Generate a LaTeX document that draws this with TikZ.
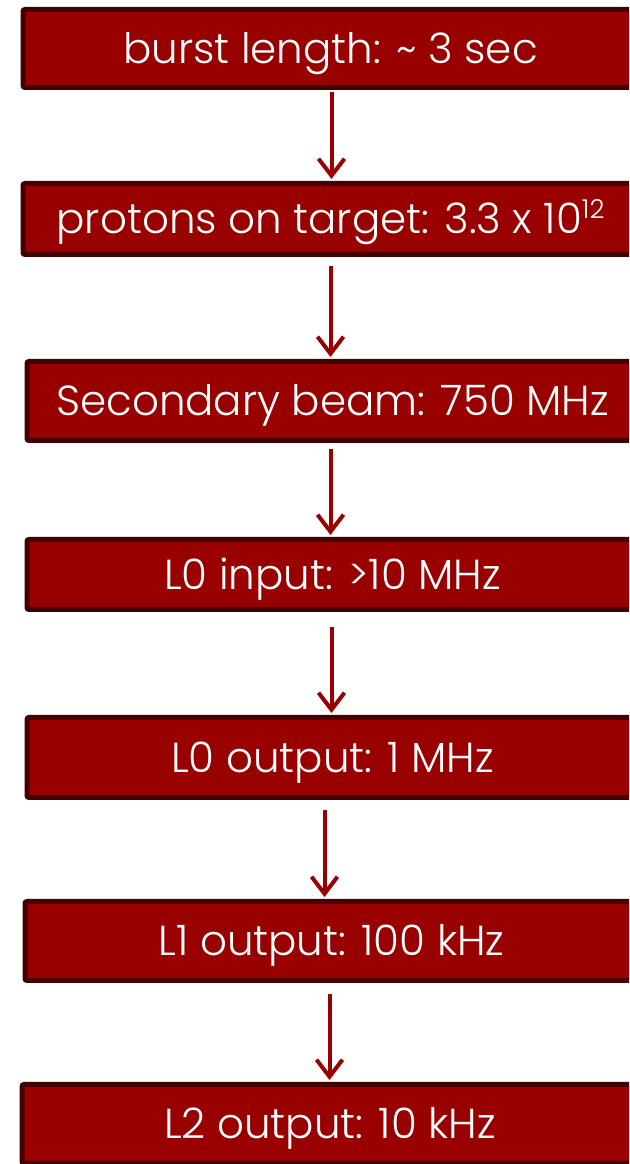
\documentclass[tikz,border=0pt]{standalone}
\usepackage{fontspec}
\setmainfont{Poppins Light}
\usetikzlibrary{arrows.meta}
\definecolor{boxfill}{HTML}{990000}
\definecolor{boxedge}{HTML}{440000}
\begin{document}
\begin{tikzpicture}[x=1pt,y=1pt,
  stage/.style={draw=boxedge, fill=boxfill, line width=5pt, rounded corners=2pt,
    text=white, font=\fontsize{42}{42}\selectfont, anchor=west, inner sep=0pt,
    text height=30pt, text depth=0pt},
  flow/.style={draw=boxfill, line width=4pt, -{Straight Barb[length=17pt,width=26pt]}}]
\fill[white] (0,0) rectangle (629,1164);
\clip (0,0) rectangle (629,1164);
\node[stage, minimum width=615pt, minimum height=78pt] (b1) at (20.5,1115.5) {burst length: \textasciitilde{} 3 sec};
\node[stage, minimum width=615pt, minimum height=71pt] (b2) at (20.5,945) {protons on target: 3.3 x 10\raisebox{0.36em}{\fontsize{26}{26}\selectfont 12}};
\node[stage, minimum width=611pt, minimum height=79pt] (b3) at (24.5,763) {Secondary beam: 750 MHz};
\node[stage, minimum width=611pt, minimum height=70pt] (b4) at (24.5,589.5) {L0 input: >10 MHz};
\node[stage, minimum width=611pt, minimum height=80pt] (b5) at (24.5,406.5) {L0 output: 1 MHz};
\node[stage, minimum width=613pt, minimum height=79pt] (b6) at (22.5,223) {L1 output: 100 kHz};
\node[stage, minimum width=616pt, minimum height=79pt] (b7) at (19.5,40) {L2 output: 10 kHz};
\draw[flow, shorten <=2.5pt, shorten >=2pt] ([xshift=1pt]b1.south) -- ([xshift=1pt]b1.south |- b2.north);
\draw[flow, shorten <=9.5pt, shorten >=2pt] (b2.south) -- (b2.south |- b3.north);
\draw[flow, shorten <=6.5pt, shorten >=2pt] ([xshift=-2pt]b3.south) -- ([xshift=-2pt]b3.south |- b4.north);
\draw[flow, shorten <=15.5pt, shorten >=2pt] ([xshift=-1pt]b4.south) -- ([xshift=-1pt]b4.south |- b5.north);
\draw[flow, shorten <=10.5pt, shorten >=2pt] ([xshift=-8pt]b5.south) -- ([xshift=-8pt]b5.south |- b6.north);
\draw[flow, shorten <=11.5pt, shorten >=2pt] ([xshift=-2pt]b6.south) -- ([xshift=-2pt]b6.south |- b7.north);
\end{tikzpicture}
\end{document}
